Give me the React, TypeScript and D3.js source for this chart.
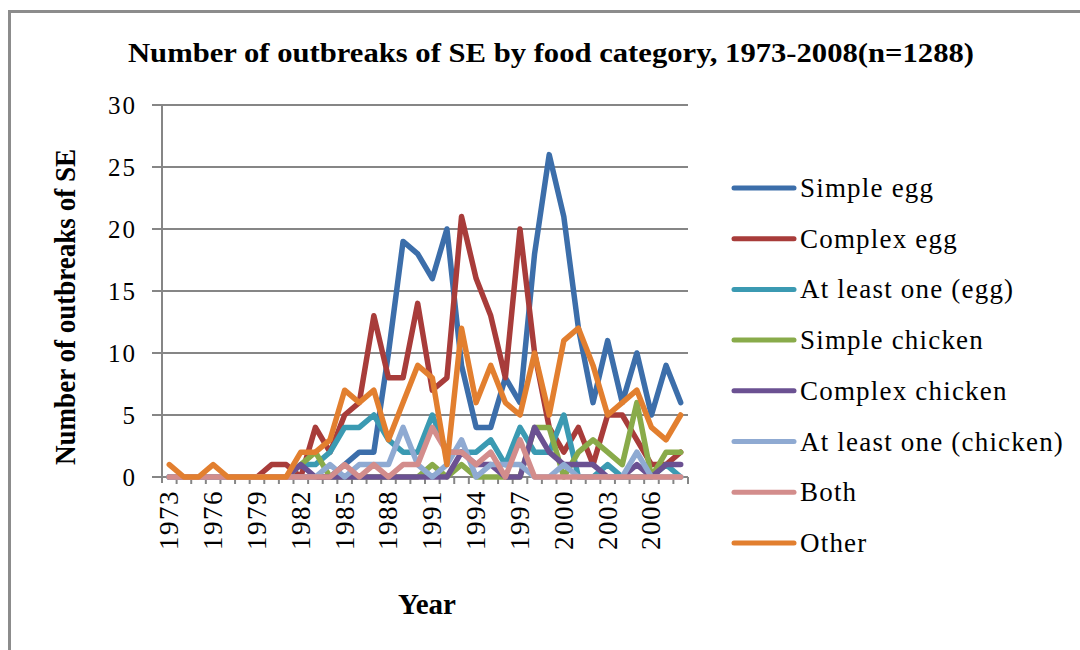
import React, { useEffect, useRef } from 'react';
import * as d3 from 'd3';

// years on the category axis
const years = d3.range(1973, 2009);
const yearLabels = ['1973', '1976', '1979', '1982', '1985', '1988', '1991', '1994', '1997', '2000', '2003', '2006'];
const yTicks = [0, 5, 10, 15, 20, 25, 30];

// outbreaks per year, 1973..2008
const simpleEgg = [0, 0, 0, 0, 0, 0, 0, 0, 0, 0, 0, 0, 1, 2, 2, 10, 19, 18, 16, 20, 9, 4, 4, 8, 6, 18, 26, 21, 12, 6, 11, 6, 10, 5, 9, 6];
const complexEgg = [0, 0, 0, 0, 0, 0, 0, 1, 1, 0, 4, 2, 5, 6, 13, 8, 8, 14, 7, 8, 21, 16, 13, 8, 20, 10, 4, 2, 4, 1, 5, 5, 3, 1, 1, 2];
const atLeastOneEgg = [0, 0, 0, 0, 0, 0, 0, 0, 0, 1, 1, 2, 4, 4, 5, 3, 2, 2, 5, 2, 2, 2, 3, 1, 4, 2, 2, 5, 0, 0, 1, 0, 0, 0, 1, 0];
const simpleChicken = [0, 0, 0, 0, 0, 0, 0, 0, 0, 1, 2, 0, 0, 0, 0, 0, 0, 0, 1, 0, 1, 0, 0, 0, 0, 4, 4, 0, 2, 3, 2, 1, 6, 0, 2, 2];
const complexChicken = [0, 0, 0, 0, 0, 0, 0, 0, 0, 1, 0, 0, 0, 0, 0, 0, 0, 0, 0, 0, 2, 1, 1, 0, 0, 4, 2, 1, 1, 1, 0, 0, 1, 0, 1, 1];
const atLeastOneChicken = [0, 0, 0, 0, 0, 0, 0, 0, 0, 0, 0, 1, 0, 1, 1, 1, 4, 1, 0, 1, 3, 0, 1, 1, 1, 0, 0, 1, 0, 0, 0, 0, 2, 0, 0, 0];
const both = [0, 0, 0, 0, 0, 0, 0, 0, 0, 0, 0, 0, 1, 0, 1, 0, 1, 1, 4, 2, 2, 1, 2, 0, 3, 0, 0, 0, 0, 0, 0, 0, 0, 0, 0, 0];
const other = [1, 0, 0, 1, 0, 0, 0, 0, 0, 2, 2, 3, 7, 6, 7, 3, 6, 9, 8, 1, 12, 6, 9, 6, 5, 10, 5, 11, 12, 9, 5, 6, 7, 4, 3, 5];

const seriesNames = ['Simple egg', 'Complex egg', 'At least one (egg)', 'Simple chicken', 'Complex chicken', 'At least one (chicken)', 'Both', 'Other'];
const seriesColors = ['#3c6eaa', '#a83c3a', '#3b9ab2', '#89ab4a', '#6b5192', '#8faad2', '#d38d8c', '#e27f2f'];
const seriesValues = [simpleEgg, complexEgg, atLeastOneEgg, simpleChicken, complexChicken, atLeastOneChicken, both, other];

export default function App() {
	const ref = useRef(null);

	useEffect(() => {
		const svg = d3.select(ref.current);
		svg.selectAll('*').remove();

		const left = 162, right = 688, top = 105, bottom = 477;
		const grey = '#868686';
		const font = '"Liberation Serif", "Times New Roman", serif';

		const x = d3.scaleBand().domain(years.map(String)).range([left, right]);
		const y = d3.scaleLinear().domain([0, 30]).range([bottom, top]);
		const cx = (yr) => x(String(yr)) + x.bandwidth() / 2;

		// outer frame (only left and top edges are inside the picture)
		svg.append('path')
			.attr('d', 'M9.5,650 V11.5 H1080')
			.attr('fill', 'none')
			.attr('stroke', '#8c8c8c')
			.attr('stroke-width', 3);

		// title
		svg.append('text')
			.text('Number of outbreaks of SE by food category, 1973-2008(n=1288)')
			.attr('x', 128).attr('y', 62)
			.attr('textLength', 846)
			.attr('lengthAdjust', 'spacingAndGlyphs')
			.attr('font-family', font)
			.attr('font-weight', 'bold')
			.attr('font-size', 28);

		// gridlines + y ticks
		const grid = svg.append('g');
		yTicks.forEach((t) => {
			grid.append('line')
				.attr('x1', left - 10).attr('x2', t === 0 ? left : right)
				.attr('y1', y(t)).attr('y2', y(t))
				.attr('stroke', grey).attr('stroke-width', 2);
			grid.append('text')
				.text(t)
				.attr('x', 137).attr('y', y(t))
				.attr('text-anchor', 'end')
				.attr('dominant-baseline', 'central')
				.attr('letter-spacing', 2)
				.attr('font-family', font)
				.attr('font-size', 25);
		});

		// axes
		svg.append('line')
			.attr('x1', left).attr('x2', left).attr('y1', top).attr('y2', bottom + 6)
			.attr('stroke', grey).attr('stroke-width', 2);
		svg.append('line')
			.attr('x1', left).attr('x2', right).attr('y1', bottom).attr('y2', bottom)
			.attr('stroke', grey).attr('stroke-width', 2);
		years.forEach((yr) => {
			const bx = x(String(yr)) + x.bandwidth();
			svg.append('line')
				.attr('x1', bx).attr('x2', bx).attr('y1', bottom).attr('y2', bottom + 7)
				.attr('stroke', grey).attr('stroke-width', 2);
		});

		// x labels, rotated
		yearLabels.forEach((lab) => {
			svg.append('text')
				.text(lab)
				.attr('transform', `translate(${cx(+lab)},490) rotate(-90)`)
				.attr('text-anchor', 'end')
				.attr('dominant-baseline', 'central')
				.attr('letter-spacing', 1.5)
				.attr('font-family', font)
				.attr('font-size', 27);
		});

		// axis titles
		svg.append('text')
			.text('Number of outbreaks of SE')
			.attr('transform', 'translate(65,307) rotate(-90)')
			.attr('text-anchor', 'middle')
			.attr('dominant-baseline', 'central')
			.attr('textLength', 316)
			.attr('lengthAdjust', 'spacingAndGlyphs')
			.attr('font-family', font)
			.attr('font-weight', 'bold')
			.attr('font-size', 29);
		svg.append('text')
			.text('Year')
			.attr('x', 427).attr('y', 614)
			.attr('text-anchor', 'middle')
			.attr('font-family', font)
			.attr('font-weight', 'bold')
			.attr('font-size', 29);

		// series lines
		const line = d3.line()
			.x((d, i) => cx(years[i]))
			.y((d) => y(d));
		const lines = svg.append('g');
		seriesValues.forEach((vals, k) => {
			lines.append('path')
				.attr('d', line(vals))
				.attr('fill', 'none')
				.attr('stroke', seriesColors[k])
				.attr('stroke-width', 5.5)
				.attr('stroke-linejoin', 'round')
				.attr('stroke-linecap', 'round');
		});

		// legend
		const legend = svg.append('g');
		seriesNames.forEach((name, k) => {
			const ly = 188 + k * 50.7;
			legend.append('line')
				.attr('x1', 734).attr('x2', 794).attr('y1', ly).attr('y2', ly)
				.attr('stroke', seriesColors[k])
				.attr('stroke-width', 5)
				.attr('stroke-linecap', 'round');
			legend.append('text')
				.text(name)
				.attr('x', 800).attr('y', ly)
				.attr('dominant-baseline', 'central')
				.attr('letter-spacing', 1.2)
				.attr('font-family', font)
				.attr('font-size', 27);
		});
	}, []);

	return (
		<svg ref={ref} width={1080} height={650}
			style={{ position: 'absolute', left: 0, top: 0, background: '#fff' }} />
	);
}
